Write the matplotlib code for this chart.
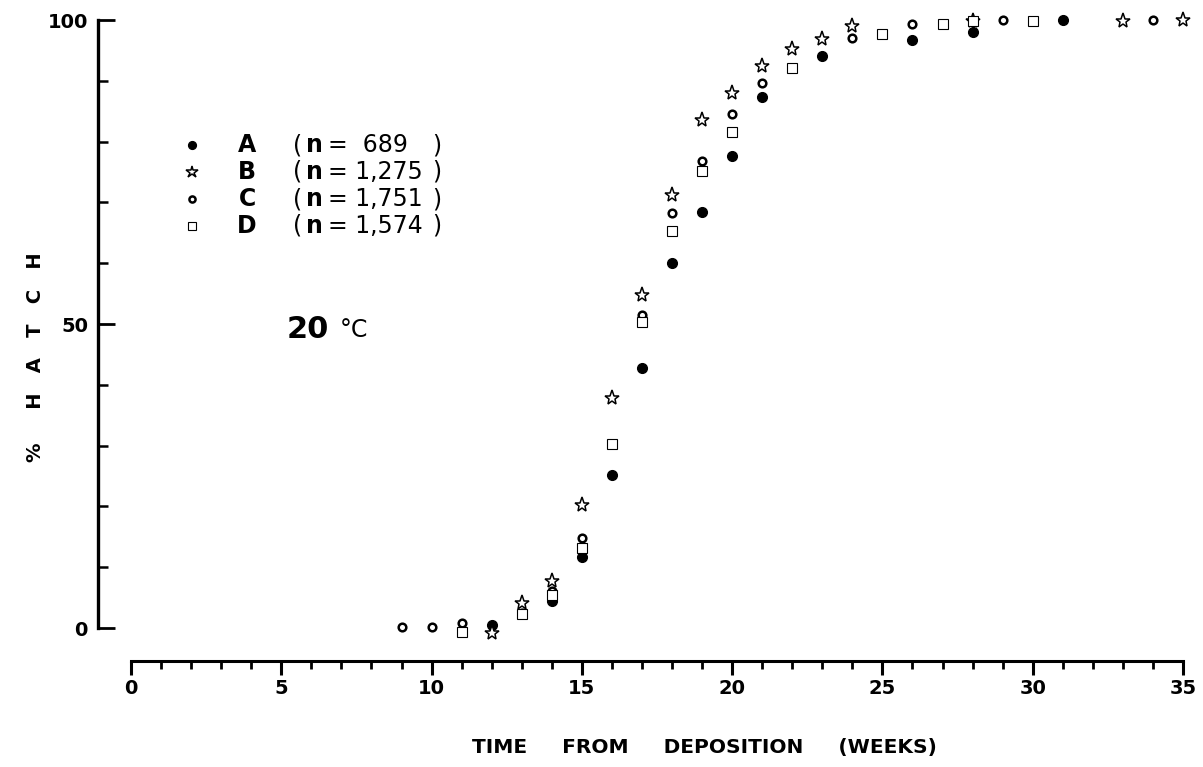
import matplotlib.pyplot as plt
from matplotlib.lines import Line2D
from matplotlib.ticker import MultipleLocator

# weeks from deposition / % hatch
weeks_a = [12, 14, 15, 16, 17, 18, 19, 20, 21, 23, 26, 28, 31]
hatch_a = [0.5, 4.5, 11.7, 25.2, 42.8, 60.0, 68.4, 77.6, 87.3, 94.1, 96.7, 98.0, 100]

weeks_b = [12, 13, 14, 15, 16, 17, 18, 19, 20, 21, 22, 23, 24, 28, 33, 35]
hatch_b = [-0.8, 4.1, 7.7, 20.2, 37.8, 54.8, 71.2, 83.6, 88.0, 92.4, 95.2, 96.9, 99.0, 99.8, 99.8, 100]

weeks_c = [9, 10, 11, 13, 14, 15, 16, 17, 18, 19, 20, 21, 24, 26, 29, 34]
hatch_c = [0.2, 0.2, 0.8, 2.5, 6.1, 14.8, 30.3, 51.5, 68.3, 76.8, 84.5, 89.6, 97.0, 99.3, 100, 100]

weeks_d = [11, 13, 14, 15, 16, 17, 18, 19, 20, 22, 25, 27, 28, 30]
hatch_d = [-0.6, 2.3, 5.4, 13.2, 30.3, 50.3, 65.3, 75.2, 81.6, 92.1, 97.7, 99.3, 99.8, 99.8]

groups = ['A', 'B', 'C', 'D']
group_n = ['689', '1,275', '1,751', '1,574']

tick_font = 'DejaVu Sans'

fig = plt.figure(figsize=(12.03, 7.67), dpi=100)
ax = fig.add_axes([131 / 1203, 1 - 628 / 767, 1052 / 1203, 608 / 767])

styles = [
    dict(marker='o', ms=7, mfc='black', mec='black', mew=1),
    dict(marker='*', ms=11, mfc='white', mec='black', mew=1.1),
    dict(marker='o', ms=5.5, mfc='white', mec='black', mew=1.8),
    dict(marker='s', ms=7.5, mfc='white', mec='black', mew=0.8),
]
series = [(weeks_a, hatch_a), (weeks_b, hatch_b), (weeks_c, hatch_c), (weeks_d, hatch_d)]
for (x, y), st in zip(series, styles):
    ax.plot(x, y, ls='none', clip_on=False, zorder=3, **st)

ax.set_xlim(0, 35)
ax.set_ylim(0, 100)

for s in ['top', 'right']:
    ax.spines[s].set_visible(False)
# outward offsets are in points (0.72 pt per pixel at 100 dpi)
ax.spines['left'].set_position(('outward', 24))
ax.spines['bottom'].set_position(('outward', 24))
ax.spines['left'].set_bounds(0, 100)
ax.spines['bottom'].set_bounds(0, 35)
ax.spines['left'].set_linewidth(2.4)
ax.spines['bottom'].set_linewidth(2.2)

ax.xaxis.set_major_locator(MultipleLocator(5))
ax.xaxis.set_minor_locator(MultipleLocator(1))
ax.yaxis.set_major_locator(MultipleLocator(50))
ax.yaxis.set_minor_locator(MultipleLocator(10))
ax.tick_params(axis='x', which='major', direction='out', length=10, width=2.2, pad=3)
ax.tick_params(axis='x', which='minor', direction='out', length=6, width=2)
ax.tick_params(axis='y', which='major', direction='in', length=12, width=2, pad=7)
ax.tick_params(axis='y', which='minor', direction='in', length=7, width=1.8)

for lab in ax.get_xticklabels() + ax.get_yticklabels():
    lab.set_family(tick_font)
    lab.set_fontweight('bold')
    lab.set_fontsize(14)

fig.text(704 / 1203, 1 - 748 / 767, 'TIME     FROM     DEPOSITION     (WEEKS)',
         family=tick_font, weight='bold', fontsize=14.5, ha='center', va='center')
fig.text(36 / 1203, 1 - 357 / 767, '%     H   A   T   C   H', rotation=90,
         family=tick_font, weight='bold', fontsize=14, ha='center', va='center')

fig.text(287 / 1203, 1 - 330 / 767, '20', family=tick_font, weight='bold',
         fontsize=22, ha='left', va='center')
fig.text(340 / 1203, 1 - 330 / 767, '°C', family='DejaVu Sans',
         fontsize=17, ha='left', va='center')

# legend drawn by hand: marker, bold letter, sample size
rows_y = [145, 172, 199, 226]
for i, (g, n) in enumerate(zip(groups, group_n)):
    yy = 1 - rows_y[i] / 767
    st = dict(styles[i])
    st['ms'] = st['ms'] * 0.8
    fig.add_artist(Line2D([192 / 1203], [yy], ls='none', transform=fig.transFigure, **st))
    fig.text(247 / 1203, yy, g, family='DejaVu Sans', weight='bold', fontsize=17,
             ha='center', va='center')
    fig.text(293 / 1203, yy, '(', family='DejaVu Sans', fontsize=17, ha='left', va='center')
    fig.text(306 / 1203, yy, 'n', family='DejaVu Sans', weight='bold', fontsize=17,
             ha='left', va='center')
    num = ('=  ' + n) if len(n) < 4 else ('= ' + n)
    fig.text(328 / 1203, yy, num, family='DejaVu Sans', fontsize=17, ha='left', va='center')
    fig.text(432 / 1203, yy, ')', family='DejaVu Sans', fontsize=17, ha='left', va='center')

fig.savefig('out.png', dpi=100)
